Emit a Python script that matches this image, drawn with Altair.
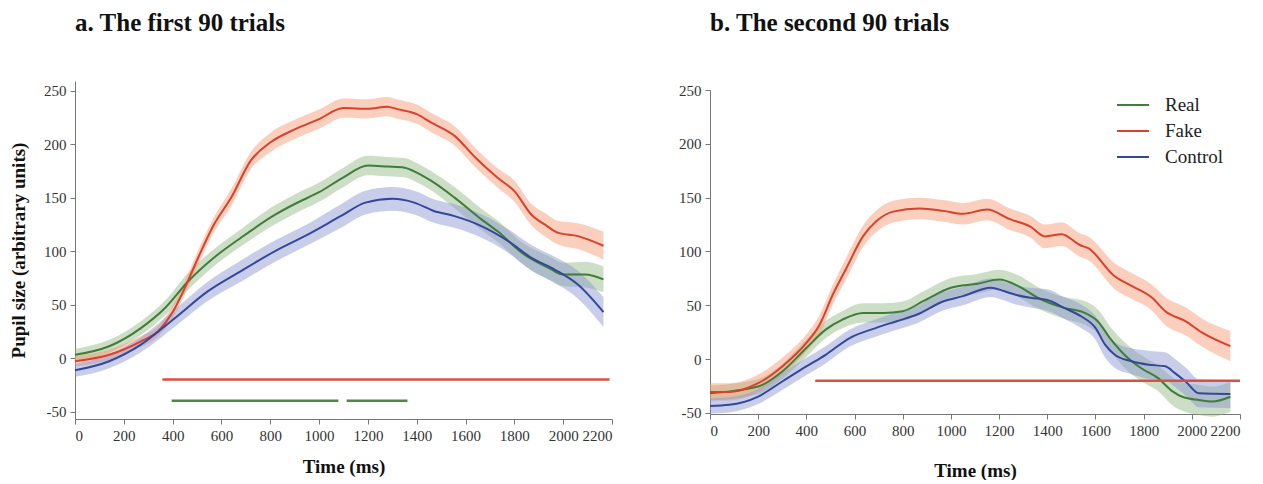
import altair as alt
import pandas as pd

SERIES = ["Real", "Fake", "Control"]
LINE_COLORS = ["#3f7d3a", "#d8412c", "#35479a"]
# band and significance-line scales list the same groups in another order
BAND_SERIES = ["Control", "Fake", "Real"]
BAND_COLORS = ["#8593d0", "#f3956c", "#8fb57f"]
SIG_SERIES = ["Fake", "Real", "Control"]
SIG_COLORS = ["#da5040", "#4a8a44", "#35479a"]

X_TICKS = [0, 200, 400, 600, 800, 1000, 1200, 1400, 1600, 1800, 2000, 2200]
Y_TICKS = [-50, 0, 50, 100, 150, 200, 250]

# ---------- panel a: the first 90 trials ----------
a_fake_t = [0, 140, 270, 340, 410, 450, 505, 570, 640, 720, 800, 900, 1000, 1100, 1200, 1280, 1320, 1400, 1460, 1555, 1640, 1730, 1800, 1870, 1930, 1980, 2060, 2165]
a_fake_v = [-3, 3, 15.6, 25, 47, 65.6, 94, 125, 150, 184.5, 201.5, 213.7, 223.4, 233.7, 233, 235, 232.7, 228, 220, 207.7, 187.4, 168.7, 156, 134, 124, 117, 114, 105]
a_fake_e = [5, 5, 5, 5, 6, 6, 7, 7, 8, 8, 9, 9, 9, 9, 9, 9, 9, 9, 9, 9, 9, 9, 10, 10, 11, 11, 12, 13]

a_real_t = [0, 140, 270, 370, 465, 570, 680, 820, 900, 1000, 1100, 1200, 1280, 1350, 1400, 1460, 1555, 1665, 1730, 1840, 1940, 2000, 2090, 2165]
a_real_v = [3, 11, 28, 47, 72, 94, 112.5, 134, 144, 155, 169, 180, 179, 178, 173.4, 165.6, 150, 129.6, 118.7, 96.8, 84.3, 78, 78, 73.5]
a_real_e = [5.5, 6, 6.5, 7, 8, 8, 8, 9, 9, 9, 9, 9, 9, 9, 9, 9, 10, 10, 10, 10, 11, 11, 12, 12]

a_ctrl_t = [0, 140, 270, 410, 545, 680, 820, 955, 1090, 1190, 1300, 1390, 1470, 1555, 1665, 1775, 1870, 1965, 2060, 2165]
a_ctrl_v = [-11.5, -3, 12.5, 37.5, 62.5, 81.3, 100, 115.6, 132.8, 145.3, 148.8, 145.3, 137.5, 132.7, 123.4, 109.3, 93.7, 82.7, 68.7, 43]
a_ctrl_e = [6, 6.5, 7, 8, 9, 10, 10, 10, 11, 11, 11, 11, 11, 11, 11, 11, 12, 12, 13, 14]

a_sig_series = ["Fake", "Real", "Real"]
a_sig_start = [358, 396, 1113]
a_sig_end = [2190, 1079, 1362]
a_sig_y = [-20, -40, -40]

# ---------- panel b: the second 90 trials ----------
b_fake_t = [0, 80, 200, 300, 400, 455, 510, 565, 635, 690, 760, 870, 970, 1050, 1150, 1245, 1330, 1390, 1460, 1535, 1570, 1680, 1750, 1835, 1890, 1975, 2045, 2160]
b_fake_v = [-30.5, -30.5, -22.4, -6.8, 15, 32, 60, 84, 114, 128, 137, 140, 137.7, 135, 139, 130, 123, 114, 116, 106, 103, 77, 68, 57, 44.5, 35, 24.3, 12]
b_fake_e = [8, 8, 8, 8, 8, 9, 9, 10, 10, 10, 10, 10, 10, 10, 10, 10, 10, 11, 11, 11, 11, 12, 12, 12, 13, 13, 13, 14]

b_real_t = [0, 200, 300, 400, 480, 550, 635, 720, 800, 885, 1000, 1110, 1200, 1280, 1360, 1470, 1555, 1610, 1665, 1720, 1790, 1860, 1920, 1960, 2030, 2085, 2160]
b_real_v = [-31.7, -25.5, -11.5, 10.3, 27.4, 36.7, 42.9, 42.9, 44.5, 53.8, 66.3, 70, 74, 67.8, 57, 47.6, 43, 35, 18, 4, -8.5, -17.7, -30, -35, -38, -39.5, -35]
b_real_e = [7, 7, 7, 8, 8, 8, 9, 9, 9, 9, 9, 9, 9, 10, 10, 10, 11, 11, 11, 12, 12, 12, 13, 13, 14, 14, 14]

b_ctrl_t = [0, 80, 200, 300, 400, 480, 580, 690, 775, 860, 970, 1050, 1165, 1220, 1265, 1330, 1400, 1470, 1540, 1600, 1640, 1680, 1750, 1820, 1890, 1930, 1975, 2030, 2160]
b_ctrl_v = [-43.5, -42.5, -34.8, -20.8, -6.8, 4, 19.6, 29, 35.2, 41.4, 53.8, 58.5, 66.3, 63.2, 60, 57, 55, 47.6, 39.8, 29, 13.4, 4, -2, -5.2, -6.7, -13, -21, -31.8, -32.4]
b_ctrl_e = [7, 7, 7, 8, 8, 8, 8, 8, 8, 8, 8.5, 8.5, 8.5, 8.5, 9, 9, 10, 10, 11, 11, 12, 12, 12, 13, 13, 13, 13, 13, 13]

b_sig_series = ["Fake"]
b_sig_start = [437]
b_sig_end = [2200]
b_sig_y = [-20]

SERIF = "Liberation Serif"


def long_df(parts):
    rows = []
    for name, ts, vs, es in parts:
        for t, v, e in zip(ts, vs, es):
            rows.append({"series": name, "band": name, "t": t, "v": v, "lo": v - e, "hi": v + e})
    return pd.DataFrame(rows)


def sig_df(series, start, end, y):
    return pd.DataFrame({"sig": series, "s": start, "e": end, "y": y})


a_df = long_df([
    ("Real", a_real_t, a_real_v, a_real_e),
    ("Fake", a_fake_t, a_fake_v, a_fake_e),
    ("Control", a_ctrl_t, a_ctrl_v, a_ctrl_e),
])
b_df = long_df([
    ("Real", b_real_t, b_real_v, b_real_e),
    ("Fake", b_fake_t, b_fake_v, b_fake_e),
    ("Control", b_ctrl_t, b_ctrl_v, b_ctrl_e),
])
a_sig = sig_df(a_sig_series, a_sig_start, a_sig_end, a_sig_y)
b_sig = sig_df(b_sig_series, b_sig_start, b_sig_end, b_sig_y)

LABEL_EXPR = "datum.value + ''"


def panel(df, sig, title, ydomain, yrange, width, height, ytitle, show_legend, xtitle_pad):
    xscale = alt.Scale(domain=[0, 2200], nice=False, zero=False)
    if yrange is None:
        yscale = alt.Scale(domain=ydomain, nice=False, zero=False)
    else:
        yscale = alt.Scale(domain=ydomain, range=yrange, nice=False, zero=False)
    xaxis = alt.Axis(values=X_TICKS, title="Time (ms)", titlePadding=xtitle_pad, labelExpr=LABEL_EXPR)
    if ytitle:
        yaxis = alt.Axis(values=Y_TICKS, title=ytitle, titlePadding=15, labelExpr=LABEL_EXPR)
    else:
        yaxis = alt.Axis(values=Y_TICKS, title=None, labelExpr=LABEL_EXPR)

    band = alt.Chart(df).mark_area(opacity=0.45, interpolate="monotone").encode(
        x=alt.X("t:Q", scale=xscale, axis=xaxis),
        y=alt.Y("lo:Q", scale=yscale, axis=yaxis),
        y2="hi:Q",
        fill=alt.Fill("band:N", scale=alt.Scale(domain=BAND_SERIES, range=BAND_COLORS), legend=None),
    )
    line_color = alt.Color(
        "series:N", scale=alt.Scale(domain=SERIES, range=LINE_COLORS),
        legend=alt.Legend(
            title=None, orient="none", legendX=406, legendY=12,
            symbolType="stroke", symbolSize=1024, symbolStrokeWidth=2,
            labelFont=SERIF, labelFontSize=19, labelColor="#222",
            clipHeight=24, rowPadding=2, padding=0, labelOffset=15,
        ) if show_legend else None,
    )
    line = alt.Chart(df).mark_line(strokeWidth=2, interpolate="monotone").encode(
        x=alt.X("t:Q", scale=xscale, axis=xaxis),
        y=alt.Y("v:Q", scale=yscale, axis=yaxis),
        color=line_color,
    )
    rules = alt.Chart(sig).mark_rule(strokeWidth=2.5).encode(
        x=alt.X("s:Q", scale=xscale, axis=xaxis),
        x2="e:Q",
        y=alt.Y("y:Q", scale=yscale, axis=yaxis),
        stroke=alt.Stroke("sig:N", scale=alt.Scale(domain=SIG_SERIES, range=SIG_COLORS), legend=None),
    )
    return alt.layer(band, line, rules).properties(
        width=width, height=height,
        title=alt.TitleParams(title, anchor="start", frame="group", font=SERIF,
                              fontSize=25, fontWeight="bold", color="#111", offset=45),
    )


left = panel(a_df, a_sig, "a. The first 90 trials", [-57, 259], None, 537, 338,
             "Pupil size (arbitrary units)", False, 14)
right = panel(b_df, b_sig, "b. The second 90 trials", [-51, 250], [333, 9], 530, 333,
              None, True, 23)

chart = alt.hconcat(left, right, spacing=65).resolve_scale(
    color="independent", fill="independent", stroke="independent"
).properties(
    padding={"left": 1, "top": 3, "right": 5, "bottom": 0},
    background="white",
).configure_view(stroke=None).configure_axis(
    grid=False, domainColor="#777", tickColor="#777", tickSize=5,
    labelFont=SERIF, labelFontSize=15, labelColor="#333", labelPadding=4,
    titleFont=SERIF, titleFontSize=19, titleFontWeight="bold", titleColor="#111",
).configure_legend(labelFont=SERIF, labelFontSize=19, labelColor="#222")

chart.save("out.html", embed_options={"renderer": "svg", "actions": False})
